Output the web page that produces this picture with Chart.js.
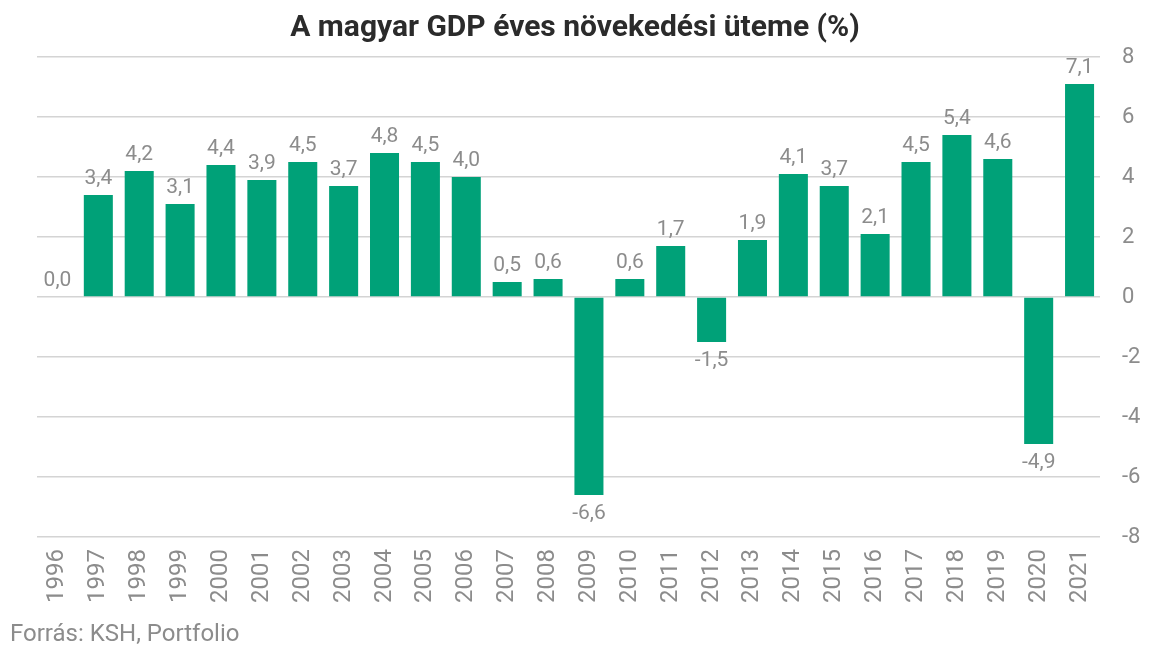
<!DOCTYPE html>
<html>
<head>
<meta charset="utf-8">
<script src="https://cdn.jsdelivr.net/npm/chart.js@4"></script>
<style>
    html, body { margin: 0; padding: 0; background: #fff; }
    #wrap { width: 1150px; height: 647px; }
</style>
</head>
<body>
<div id="wrap"><canvas id="gdpChart" width="1150" height="647"></canvas></div>
<script>
var years = ['1996', '1997', '1998', '1999', '2000', '2001', '2002', '2003', '2004', '2005', '2006', '2007', '2008',
    '2009', '2010', '2011', '2012', '2013', '2014', '2015', '2016', '2017', '2018', '2019', '2020', '2021'];
var growth = [0.0, 3.4, 4.2, 3.1, 4.4, 3.9, 4.5, 3.7, 4.8, 4.5, 4.0, 0.5, 0.6,
    -6.6, 0.6, 1.7, -1.5, 1.9, 4.1, 3.7, 2.1, 4.5, 5.4, 4.6, -4.9, 7.1];
var yTicks = [-8, -6, -4, -2, 0, 2, 4, 6, 8];

// value labels above / below each bar, Hungarian decimal comma
var valueLabels = {
    id: 'valueLabels',
    afterDatasetsDraw: function (chart) {
        var ctx = chart.ctx;
        var meta = chart.getDatasetMeta(0);
        ctx.save();
        ctx.font = '21px Roboto';
        ctx.fillStyle = '#8c8c8c';
        ctx.textAlign = 'center';
        meta.data.forEach(function (bar, i) {
            var v = growth[i];
            var txt = v.toFixed(1).replace('.', ',');
            if (v < 0) {
                ctx.textBaseline = 'top';
                ctx.fillText(txt, bar.x, bar.y + 8);
            } else {
                ctx.textBaseline = 'bottom';
                ctx.fillText(txt, bar.x, bar.y - 6);
            }
        });
        ctx.restore();
    }
};

// title centred on the whole picture, source note at the bottom left
var headerFooter = {
    id: 'headerFooter',
    afterDraw: function (chart) {
        var ctx = chart.ctx;
        ctx.save();
        ctx.textBaseline = 'middle';
        ctx.textAlign = 'center';
        ctx.fillStyle = '#2b2b2b';
        ctx.font = 'bold 30px Roboto';
        ctx.fillText('A magyar GDP éves növekedési üteme (%)', chart.width / 2, 28);
        ctx.textAlign = 'left';
        ctx.fillStyle = '#8c8c8c';
        ctx.font = '24px Roboto';
        ctx.fillText('Forrás: KSH, Portfolio', 10, 635);
        ctx.restore();
    }
};

var ctx = document.getElementById('gdpChart').getContext('2d');
new Chart(ctx, {
    type: 'bar',
    data: {
        labels: years,
        datasets: [{
            data: growth,
            backgroundColor: '#00a178',
            barPercentage: 0.71,
            categoryPercentage: 1.0
        }]
    },
    plugins: [valueLabels, headerFooter],
    options: {
        responsive: false,
        animation: false,
        layout: { padding: { left: 37, right: 0, top: 57, bottom: 40 } },
        plugins: {
            legend: { display: false },
            tooltip: { enabled: false }
        },
        scales: {
            x: {
                grid: { display: false },
                border: { display: false },
                ticks: {
                    color: '#8c8c8c',
                    font: { family: 'Roboto', size: 24 },
                    maxRotation: 90,
                    minRotation: 90,
                    padding: 4,
                    autoSkip: false
                }
            },
            y: {
                position: 'right',
                min: -8,
                max: 8,
                afterBuildTicks: function (axis) {
                    axis.ticks = yTicks.map(function (v) { return { value: v }; });
                },
                afterFit: function (axis) {
                    axis.width = 50;
                },
                grid: { color: '#d4d4d4', lineWidth: 1.5, tickLength: 0 },
                border: { display: false },
                ticks: {
                    color: '#8c8c8c',
                    font: { family: 'Roboto', size: 22 },
                    padding: 22
                }
            }
        }
    }
});
</script>
</body>
</html>
